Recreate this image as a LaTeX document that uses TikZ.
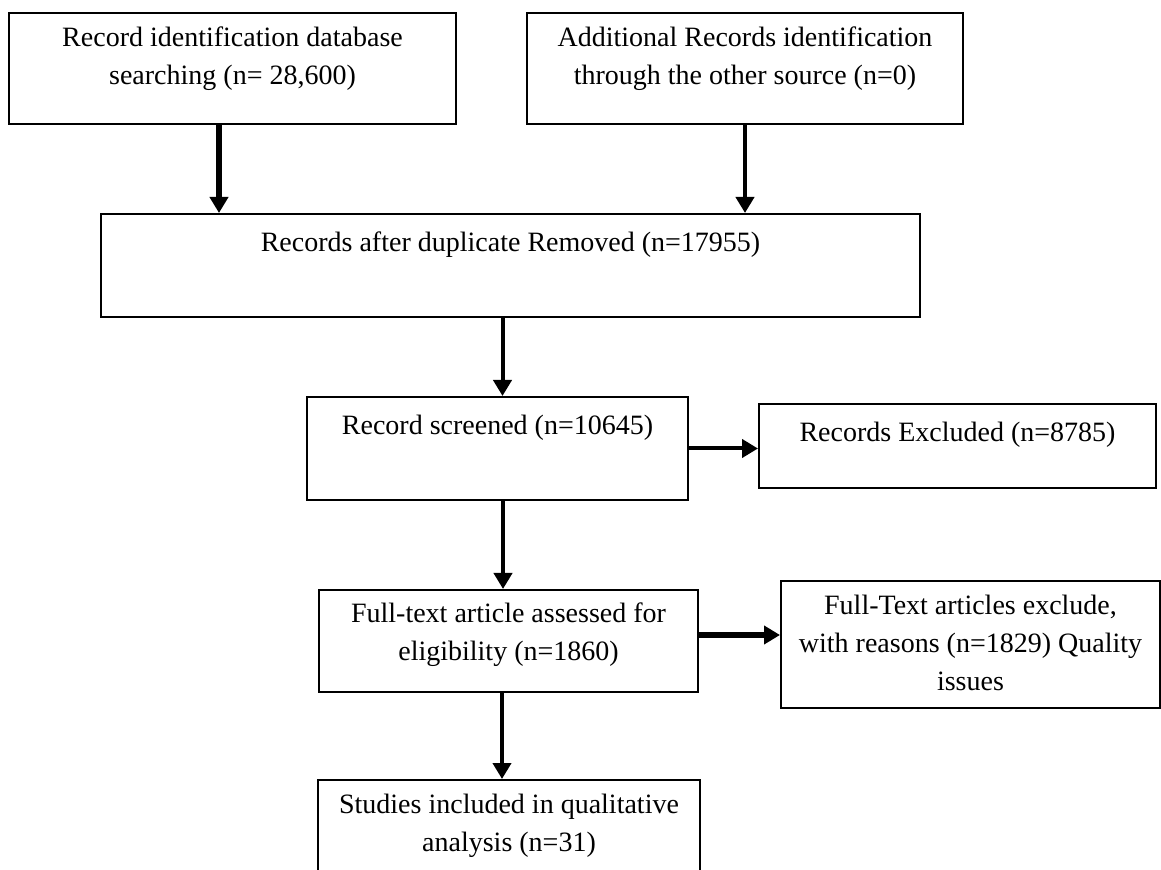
\documentclass[tikz,border=0pt]{standalone}
\usepackage{fontspec}
\setmainfont{Liberation Serif}
\usepackage{tikz}
\usetikzlibrary{arrows.meta}

\begin{document}
\begin{tikzpicture}[
    x=0.5pt, y=-0.5pt,
    box/.style={draw, line width=1pt, inner sep=0pt, align=center, anchor=base, font=\fontsize{14}{19}\selectfont},
    arrow/.style={-{Triangle[length=8pt,width=9pt]}, line width=2pt},
    thickarrow/.style={arrow, line width=3pt}
]
\useasboundingbox (0,0) rectangle (1161,870);

\node[box, minimum width=223.5pt, text height=36pt, text depth=19.5pt] (search) at (232.5,85) {Record identification database\\searching (n= 28,600)};
\node[box, minimum width=218pt, text height=36pt, text depth=19.5pt] (other) at (745,85) {Additional Records identification\\through the other source (n=0)};
\node[box, minimum width=409.5pt, text height=19pt, text depth=32.5pt] (dup) at (510.5,252) {Records after duplicate Removed (n=17955)};
\node[box, minimum width=190.5pt, text height=19pt, text depth=32.5pt] (screen) at (497.5,435) {Record screened (n=10645)};
\node[box, minimum width=198.5pt, text height=19pt, text depth=23pt] (excl) at (957.5,442) {Records Excluded (n=8785)};
\node[box, minimum width=189.5pt, text height=35.5pt, text depth=15.5pt] (full) at (508.5,661) {Full-text article assessed for\\eligibility (n=1860)};
\node[box, minimum width=189.5pt, text height=54.5pt, text depth=9pt] (fullexcl) at (970.5,690) {Full-Text articles exclude,\\with reasons (n=1829) Quality\\issues};
\node[box, minimum width=191pt, text height=35.5pt, text depth=24.5pt] (incl) at (509,851) {Studies included in qualitative\\analysis (n=31)};

\draw[thickarrow] ([xshift=-6.75pt]search.south) -- ([xshift=-6.75pt]search.south |- dup.north);
\draw[arrow] (other.south) -- (other.south |- dup.north);
\draw[arrow] ([xshift=2.5pt]screen.north |- dup.south) -- ([xshift=2.5pt]screen.north);
\draw[arrow] (screen.east) -- (screen.east -| excl.west);
\draw[arrow] ([xshift=2.75pt]screen.south) -- ([xshift=2.75pt]screen.south |- full.north);
\draw[thickarrow] ([yshift=3pt]full.east) -- ([yshift=3pt]full.east -| fullexcl.west);
\draw[arrow] ([xshift=-3.25pt]full.south) -- ([xshift=-3.25pt]full.south |- incl.north);

\end{tikzpicture}
\end{document}
